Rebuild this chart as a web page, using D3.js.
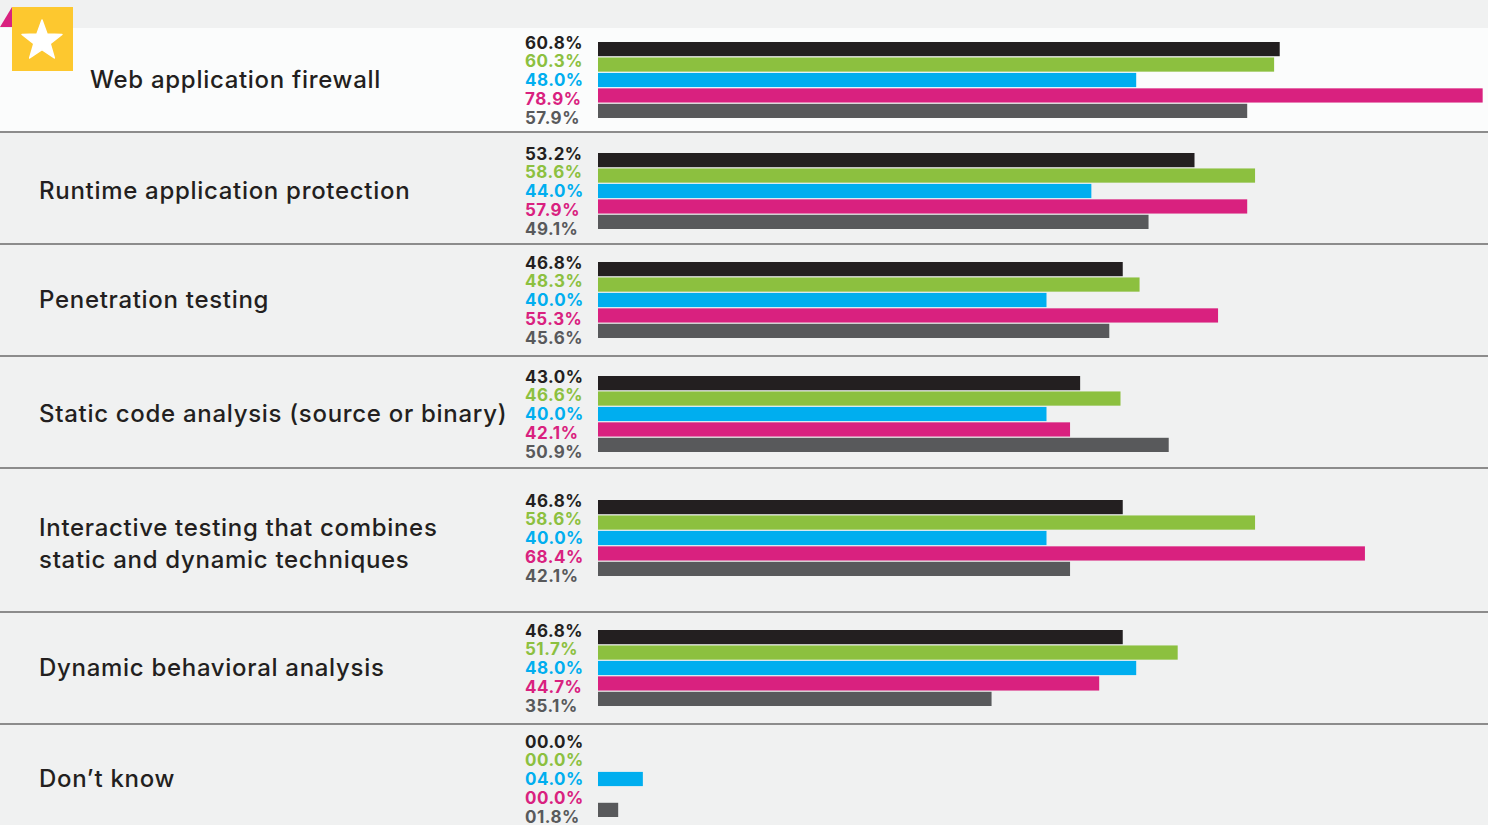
<!DOCTYPE html>
<html>
<head>
<meta charset="utf-8">
<script src="https://cdn.jsdelivr.net/npm/d3@7"></script>
<style>
  html, body { margin: 0; padding: 0; background: #f0f1f1; }
  svg { display: block; }
  .cat { font-family: Inter, 'Noto Sans', sans-serif; font-weight: 500; fill: #231f20; letter-spacing: 0.7px; }
  .val { font-family: Inter, 'Noto Sans', sans-serif; font-weight: 700; letter-spacing: 0.5px; }
</style>
</head>
<body>
<svg id="chart" width="1488" height="825"></svg>
<script>
var categories = [
  ['Web application firewall'],
  ['Runtime application protection'],
  ['Penetration testing'],
  ['Static code analysis (source or binary)'],
  ['Interactive testing that combines', 'static and dynamic techniques'],
  ['Dynamic behavioral analysis'],
  ['Don\u2019t know']
]
var seriesKeys = ['s1', 's2', 's3', 's4', 's5']
var seriesColors = ['#231f20', '#8cc03f', '#00aeef', '#d9217f', '#58595b']
var s1 = [60.8, 53.2, 46.8, 43.0, 46.8, 46.8, 0.0]
var s2 = [60.3, 58.6, 48.3, 46.6, 58.6, 51.7, 0.0]
var s3 = [48.0, 44.0, 40.0, 40.0, 40.0, 48.0, 4.0]
var s4 = [78.9, 57.9, 55.3, 42.1, 68.4, 44.7, 0.0]
var s5 = [57.9, 49.1, 45.6, 50.9, 42.1, 35.1, 1.8]
var seriesValues = [s1, s2, s3, s4, s5]

var width = 1488,
  rowTop = 28,
  rowHeights = [104, 112, 112, 112, 144, 112, 112],
  rowShift = [0, 3, 0, 2, -2, 0, -1]

var svg = d3.select('#chart')
var x = d3.scaleLinear().domain([0, 80]).range([598, 598 + 897])
var fmt = d3.format('04.1f')

// row offsets
var rows = []
var acc = rowTop
rowHeights.forEach(function(h, i) {
  rows.push({ i: i, y0: acc, h: h, cy: acc + h / 2 + rowShift[i] })
  acc += h
})

// first row is highlighted
svg
  .append('rect')
  .attr('x', 0)
  .attr('y', rows[0].y0)
  .attr('width', width)
  .attr('height', rows[0].h)
  .attr('fill', '#fbfcfc')

// separators
svg
  .selectAll('line.sep')
  .data(rows.slice(1))
  .enter()
  .append('line')
  .attr('class', 'sep')
  .attr('x1', 0)
  .attr('x2', width)
  .attr('y1', function(d) { return d.y0 })
  .attr('y2', function(d) { return d.y0 })
  .attr('stroke', '#8c8c8c')
  .attr('stroke-width', 2)

// badge
svg
  .append('path')
  .attr('d', 'M0,27L12,7L12,27Z')
  .attr('fill', '#d9217f')
svg
  .append('rect')
  .attr('x', 12)
  .attr('y', 7)
  .attr('width', 61)
  .attr('height', 64)
  .attr('fill', '#fdc82f')
var starPts = d3.range(10).map(function(k) {
  var r = k % 2 === 0 ? 21 : 8.6,
    a = -Math.PI / 2 + (k * Math.PI) / 5
  return [42 + r * Math.cos(a), 41 + r * Math.sin(a)]
})
svg
  .append('polygon')
  .attr('points', starPts.map(function(p) { return p.join(',') }).join(' '))
  .attr('fill', '#ffffff')
  .attr('stroke', '#ffffff')
  .attr('stroke-linejoin', 'round')
  .attr('stroke-width', 1.5)

var row = svg
  .selectAll('g.row')
  .data(rows)
  .enter()
  .append('g')
  .attr('class', 'row')

// category labels
row
  .append('text')
  .attr('class', 'cat')
  .attr('font-size', 24)
  .attr('x', function(d) { return d.i === 0 ? 90 : 39 })
  .attr('y', function(d) { return d.cy })
  .each(function(d) {
    var lines = categories[d.i],
      n = lines.length,
      t = d3.select(this)
    lines.forEach(function(l, j) {
      t.append('tspan')
        .attr('x', d.i === 0 ? 90 : 39)
        .attr('dy', j === 0 ? (-(n - 1) * 32) / 2 + 8 + (n - 1) * 6 : 32)
        .text(l)
    })
  })

// bars
var band = d3.scaleBand().domain(seriesKeys).range([-38, 38]).paddingInner(0.08)
var labelPos = d3.scalePoint().domain(seriesKeys).range([-37.5, 37.5])

row.each(function(d) {
  var g = d3.select(this)
  var items = seriesKeys.map(function(k, j) {
    return { key: k, v: seriesValues[j][d.i], color: seriesColors[j] }
  })
  g.selectAll('rect.bar')
    .data(items)
    .enter()
    .append('rect')
    .attr('class', 'bar')
    .attr('x', x(0))
    .attr('y', function(e) { return d.cy + band(e.key) })
    .attr('width', function(e) { return x(e.v) - x(0) })
    .attr('height', band.bandwidth())
    .attr('fill', function(e) { return e.color })
  g.selectAll('text.val')
    .data(items)
    .enter()
    .append('text')
    .attr('class', 'val')
    .attr('font-size', 17)
    .attr('x', 525)
    .attr('y', function(e) { return d.cy + labelPos(e.key) })
    .attr('dy', '0.36em')
    .attr('fill', function(e) { return e.color })
    .text(function(e) { return fmt(e.v) + '%' })
})
</script>
</body>
</html>
